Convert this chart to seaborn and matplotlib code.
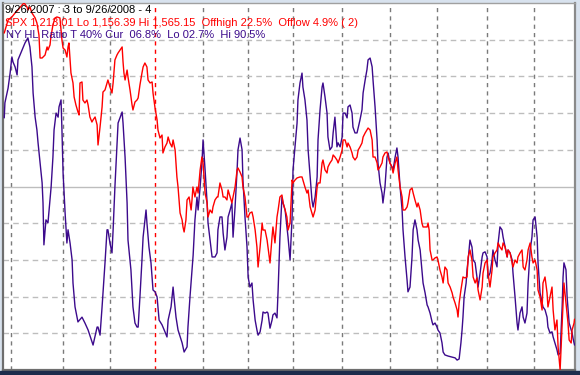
import numpy as np
import pandas as pd
import seaborn as sns
import matplotlib
matplotlib.use("Agg")
import matplotlib.pyplot as plt
from matplotlib.patches import Rectangle

# x = trading day since 9/26/2007 (0 .. 253)
# NY HL ratio, % (left scale, 0..100)
purple_day = [
    0.0, 0.3, 1.7, 2.6, 3.4, 3.9, 4.8, 5.7, 6.1, 7.9,
    9.2, 10.5, 11.4, 12.3, 12.8, 13.7, 14.5, 15.0, 15.9, 16.8,
    17.2, 17.6, 18.5, 19.4, 19.9, 20.8, 21.6, 22.1, 23.0, 23.9,
    24.3, 25.2, 25.6, 26.1, 27.0, 27.8, 28.3, 29.2, 30.1, 30.5,
    31.4, 32.7, 34.5, 35.8, 37.2, 39.4, 41.2, 41.6, 42.5, 43.4,
    44.7, 45.6, 46.0, 46.9, 47.8, 48.3, 49.1, 50.0, 50.5, 52.3,
    52.7, 53.6, 54.5, 54.9, 56.2, 57.1, 58.0, 58.9, 59.4, 60.2,
    61.1, 61.6, 62.9, 63.3, 64.2, 65.1, 66.0, 66.9, 67.8, 68.7,
    70.0, 71.3, 72.2, 72.7, 74.0, 74.9, 75.3, 76.2, 77.1, 78.9,
    79.8, 81.1, 81.5, 82.4, 83.8, 84.6, 85.5, 86.0, 86.9, 87.7,
    88.2, 89.1, 90.0, 90.4, 91.3, 92.2, 93.5, 94.4, 94.8, 95.7,
    96.6, 97.1, 97.9, 98.8, 99.3, 100.2, 101.0, 101.5, 102.4, 103.3,
    103.7, 104.6, 105.5, 105.9, 106.8, 107.7, 108.2, 109.0, 109.9, 110.4,
    111.3, 112.1, 112.6, 113.5, 114.4, 114.8, 115.7, 116.6, 117.0, 117.9,
    118.8, 119.2, 120.1, 121.0, 121.5, 122.3, 123.2, 123.7, 124.6, 125.4,
    125.9, 126.8, 127.7, 128.1, 129.0, 129.9, 130.3, 131.2, 132.1, 132.5,
    133.4, 134.3, 134.8, 135.7, 136.5, 137.0, 137.9, 138.8, 139.2, 140.1,
    141.0, 141.4, 142.3, 143.2, 143.6, 144.5, 145.4, 145.9, 146.7, 147.6,
    148.1, 149.0, 149.9, 150.3, 151.2, 152.1, 152.5, 153.4, 154.3, 154.7,
    155.6, 156.5, 157.0, 157.8, 158.7, 159.2, 160.1, 160.9, 161.4, 162.3,
    163.2, 163.6, 164.5, 165.4, 165.8, 166.7, 167.6, 168.0, 168.9, 169.8,
    170.3, 171.1, 172.0, 172.5, 173.4, 174.2, 174.7, 175.6, 176.5, 176.9,
    177.8, 178.7, 179.1, 180.0, 180.9, 181.4, 182.2, 183.1, 183.6, 184.5,
    185.3, 185.8, 186.7, 187.6, 188.0, 188.9, 189.8, 190.2, 191.1, 192.0,
    192.4, 193.3, 194.2, 194.7, 195.5, 196.9, 198.7, 200.0, 200.9, 201.8,
    202.6, 203.1, 203.5, 204.0, 204.9, 205.3, 205.8, 206.6, 207.5, 208.0,
    208.9, 209.7, 210.2, 211.1, 212.0, 212.4, 213.3, 214.2, 214.6, 215.5,
    216.4, 216.8, 217.7, 218.6, 219.1, 219.9, 220.8, 221.3, 222.2, 223.1,
    223.5, 224.4, 225.3, 225.7, 226.6, 227.5, 227.9, 228.8, 229.7, 230.2,
    231.0, 231.9, 232.4, 233.3, 234.1, 234.6, 235.5, 236.4, 236.8, 237.7,
    238.6, 239.0, 239.9, 240.8, 241.2, 242.1, 243.0, 243.5, 244.3, 245.2,
    245.7, 246.6, 247.5, 247.9, 248.3, 249.2, 249.7, 250.6, 251.9, 252.3,
    253.0,
]
purple_pct = [
    68.7, 72.8, 76.8, 80.9, 85.3, 83.9, 82.6, 80.4, 84.5, 87.2,
    89.1, 90.5, 88.0, 82.6, 75.5, 68.9, 65.4, 61.9, 56.4, 51.0,
    45.5, 34.1, 40.9, 40.1, 43.6, 49.9, 58.0, 65.4, 70.0, 68.9,
    71.7, 73.6, 65.4, 53.7, 42.8, 34.6, 38.2, 34.6, 30.0, 23.7,
    17.2, 13.1, 14.4, 12.8, 10.9, 6.8, 11.7, 11.7, 9.5, 17.2,
    29.2, 38.2, 38.2, 34.6, 31.9, 38.2, 49.9, 60.8, 67.3, 70.3,
    67.3, 58.0, 45.5, 35.4, 27.3, 17.2, 12.8, 11.7, 11.7, 19.9,
    30.0, 36.2, 43.6, 40.1, 33.5, 29.2, 21.8, 21.3, 19.9, 13.6,
    12.3, 10.4, 9.0, 13.6, 17.2, 22.6, 19.9, 14.4, 10.9, 7.4,
    4.9, 6.3, 11.7, 19.9, 31.3, 40.9, 47.1, 43.6, 49.9, 56.4,
    62.7, 54.5, 45.5, 40.1, 35.4, 30.8, 30.8, 31.9, 38.2, 41.7,
    41.7, 37.3, 32.7, 36.2, 41.7, 43.6, 45.5, 36.2, 44.4, 54.5,
    60.0, 63.2, 60.0, 51.8, 41.7, 33.5, 25.3, 22.6, 23.7, 19.1,
    13.6, 10.9, 9.5, 10.4, 13.6, 15.8, 15.5, 15.8, 15.5, 11.4,
    13.6, 15.0, 15.5, 14.2, 21.8, 36.2, 47.1, 45.5, 43.6, 39.0,
    36.2, 30.0, 41.7, 54.5, 60.8, 67.3, 73.6, 78.2, 80.9, 77.1,
    73.6, 68.1, 60.0, 52.6, 46.3, 44.4, 47.1, 52.6, 62.7, 70.9,
    77.1, 78.2, 74.4, 70.0, 63.5, 60.0, 60.8, 64.6, 68.9, 60.8,
    61.9, 60.8, 63.5, 70.0, 70.0, 68.7, 71.7, 72.2, 70.0, 66.2,
    64.6, 64.6, 65.9, 68.1, 70.9, 75.5, 79.0, 81.8, 84.5, 85.0,
    82.6, 79.0, 71.7, 62.7, 56.4, 51.0, 48.2, 45.5, 49.9, 58.0,
    59.1, 56.4, 55.3, 54.5, 58.0, 60.5, 58.0, 49.9, 43.6, 38.2,
    30.8, 24.5, 21.3, 22.6, 30.8, 38.2, 40.9, 38.2, 35.4, 32.7,
    27.3, 23.7, 21.0, 17.7, 17.2, 15.5, 13.1, 12.3, 12.8, 11.7,
    10.9, 10.1, 7.4, 4.9, 4.1, 3.8, 3.5, 3.3, 2.7, 3.0,
    7.4, 10.9, 14.4, 19.9, 23.7, 27.3, 30.0, 35.4, 33.5, 30.0,
    29.2, 25.3, 22.6, 26.4, 30.8, 31.9, 32.2, 30.8, 25.3, 26.4,
    30.0, 32.7, 30.0, 28.1, 34.6, 39.0, 38.2, 36.2, 33.5, 30.8,
    32.7, 31.9, 30.0, 26.4, 19.9, 12.8, 10.9, 15.5, 17.2, 14.4,
    12.8, 15.5, 23.7, 32.7, 36.2, 40.9, 41.7, 36.2, 29.2, 21.0,
    18.3, 17.2, 16.4, 14.4, 11.7, 10.1, 10.4, 9.0, 7.4, 5.5,
    4.1, 4.6, 17.2, 25.3, 29.2, 27.3, 19.9, 12.8, 10.1, 8.7,
    6.8,
]

# SPX close (right scale, Lo 1156.39 .. Hi 1565.15)
spx_day = [
    0.0, 1.7, 3.4, 4.8, 6.1, 7.9, 8.8, 10.1, 10.5, 11.4,
    12.3, 13.7, 14.5, 15.4, 15.9, 16.8, 18.1, 19.0, 19.4, 20.3,
    20.7, 21.6, 22.5, 23.4, 24.7, 25.6, 26.1, 27.0, 27.8, 28.3,
    28.7, 29.2, 29.6, 30.5, 31.0, 31.8, 32.7, 33.2, 33.6, 34.5,
    34.9, 35.8, 36.7, 37.2, 38.0, 38.9, 39.4, 40.3, 41.2, 41.6,
    42.5, 43.4, 43.8, 44.7, 45.6, 46.0, 46.9, 47.8, 48.3, 49.1,
    50.0, 50.5, 51.4, 52.3, 52.7, 53.1, 53.6, 54.5, 54.9, 55.8,
    56.7, 57.1, 58.0, 58.9, 59.4, 60.2, 61.1, 61.6, 62.4, 63.3,
    63.8, 64.7, 65.6, 66.0, 66.9, 67.8, 68.2, 69.1, 70.0, 70.4,
    71.3, 72.2, 72.7, 73.5, 74.4, 74.9, 75.8, 76.2, 76.6, 77.1,
    78.0, 78.9, 79.3, 79.8, 80.6, 81.1, 82.0, 82.9, 83.3, 83.7,
    84.6, 85.5, 86.0, 86.9, 87.7, 88.2, 89.1, 90.0, 90.4, 91.3,
    92.2, 92.6, 93.5, 94.4, 94.8, 95.7, 96.6, 97.1, 97.9, 98.8,
    99.3, 100.2, 101.0, 101.5, 102.4, 103.3, 103.7, 104.6, 105.5, 105.9,
    106.8, 107.7, 108.2, 109.0, 109.9, 110.4, 111.3, 112.1, 112.6, 113.5,
    114.4, 114.8, 115.7, 116.6, 117.0, 117.9, 118.8, 119.2, 120.1, 121.0,
    121.5, 122.3, 123.2, 123.7, 124.6, 125.4, 125.9, 126.8, 127.7, 128.1,
    129.0, 129.9, 131.2, 132.1, 132.5, 133.4, 134.3, 134.8, 135.7, 136.5,
    137.0, 137.9, 138.8, 139.2, 140.1, 141.0, 141.4, 142.3, 143.2, 143.6,
    144.5, 145.4, 145.9, 146.7, 147.6, 148.1, 149.0, 149.9, 150.3, 151.2,
    152.1, 152.5, 153.4, 154.3, 154.7, 155.6, 156.5, 157.0, 157.8, 158.7,
    159.2, 160.1, 160.9, 161.4, 162.3, 163.2, 163.6, 164.5, 165.4, 165.8,
    166.7, 167.6, 168.0, 168.9, 169.8, 170.3, 171.1, 172.0, 172.5, 173.4,
    174.2, 174.7, 175.6, 176.5, 176.9, 177.8, 178.7, 179.1, 180.0, 180.9,
    181.4, 182.2, 183.1, 183.6, 184.5, 185.3, 185.8, 187.6, 188.0, 188.5,
    188.9, 189.8, 190.2, 191.1, 192.0, 192.4, 193.3, 194.2, 194.7, 195.5,
    196.4, 196.9, 197.8, 198.7, 199.1, 200.0, 200.9, 201.3, 201.8, 202.6,
    203.5, 204.4, 205.3, 205.8, 206.6, 207.5, 208.0, 208.9, 209.7, 210.2,
    211.1, 212.0, 212.4, 213.3, 214.2, 214.6, 215.5, 216.4, 216.8, 217.7,
    218.6, 219.1, 219.9, 220.8, 221.3, 222.2, 223.1, 223.5, 224.4, 225.3,
    225.7, 226.6, 227.5, 227.9, 228.8, 229.7, 230.2, 231.0, 231.9, 232.4,
    233.3, 234.1, 234.6, 235.5, 236.4, 236.8, 237.7, 238.6, 239.0, 239.9,
    240.8, 241.2, 242.1, 243.0, 243.5, 244.3, 245.2, 245.7, 246.6, 247.0,
    247.9, 248.3, 249.2, 250.1, 250.6, 251.5, 251.9, 252.8, 253.0,
]
spx_close = [
    1531.7, 1546.2, 1549.6, 1554.0, 1557.4, 1562.9, 1565.2, 1560.7, 1557.4, 1560.7,
    1554.0, 1548.5, 1542.9, 1529.5, 1503.9, 1503.9, 1507.2, 1516.2, 1512.8, 1518.4,
    1527.3, 1540.7, 1548.5, 1549.6, 1548.5, 1524.0, 1515.0, 1512.8, 1505.0, 1516.2,
    1520.6, 1501.7, 1487.2, 1476.1, 1460.5, 1451.6, 1443.8, 1440.4, 1476.1, 1477.2,
    1457.1, 1453.8, 1457.1, 1451.6, 1438.2, 1432.6, 1434.9, 1438.2, 1429.3, 1407.0,
    1427.1, 1449.3, 1466.0, 1468.3, 1476.1, 1479.4, 1471.6, 1464.9, 1476.1, 1501.7,
    1507.2, 1509.5, 1512.8, 1516.2, 1499.5, 1487.2, 1479.4, 1490.5, 1482.7, 1468.3,
    1451.6, 1446.0, 1454.9, 1457.1, 1459.4, 1473.8, 1487.2, 1493.9, 1498.3, 1493.9,
    1479.4, 1476.1, 1477.2, 1464.9, 1448.2, 1434.9, 1423.7, 1414.8, 1418.1, 1398.1,
    1404.8, 1409.2, 1415.9, 1409.2, 1404.8, 1412.6, 1401.4, 1387.0, 1371.4, 1360.2,
    1331.3, 1323.5, 1315.7, 1310.1, 1323.5, 1345.8, 1349.1, 1334.6, 1345.8, 1360.2,
    1349.1, 1360.2, 1353.5, 1379.2, 1393.6, 1387.0, 1353.5, 1342.4, 1326.8, 1334.6,
    1331.3, 1338.0, 1345.8, 1349.1, 1349.1, 1364.7, 1356.9, 1349.1, 1349.1, 1345.8,
    1356.9, 1349.1, 1342.4, 1349.1, 1360.2, 1379.2, 1381.4, 1376.9, 1371.4, 1360.2,
    1349.1, 1326.8, 1326.8, 1331.3, 1332.4, 1326.8, 1312.3, 1293.4, 1271.1, 1293.4,
    1320.1, 1312.3, 1312.3, 1301.2, 1293.4, 1275.6, 1304.5, 1315.7, 1297.9, 1326.8,
    1334.6, 1349.1, 1351.3, 1342.4, 1334.6, 1326.8, 1312.3, 1320.1, 1368.0, 1364.7,
    1368.0, 1370.3, 1371.4, 1371.4, 1368.0, 1360.2, 1353.5, 1356.9, 1338.0, 1331.3,
    1326.8, 1334.6, 1360.2, 1364.7, 1364.7, 1387.0, 1390.3, 1379.2, 1375.8, 1382.5,
    1387.0, 1390.3, 1395.9, 1393.6, 1390.3, 1387.0, 1393.6, 1401.4, 1412.6, 1412.6,
    1404.8, 1409.2, 1404.8, 1398.1, 1393.6, 1390.3, 1393.6, 1401.4, 1404.8, 1409.2,
    1415.9, 1420.4, 1423.7, 1425.9, 1423.7, 1412.6, 1393.6, 1393.6, 1387.0, 1379.2,
    1382.5, 1387.0, 1393.6, 1398.1, 1399.2, 1393.6, 1387.0, 1382.5, 1375.8, 1387.0,
    1393.6, 1379.2, 1360.2, 1349.1, 1334.6, 1334.6, 1338.0, 1342.4, 1356.9, 1359.1,
    1353.5, 1345.8, 1338.0, 1342.4, 1334.6, 1320.1, 1315.7, 1315.7, 1320.1, 1312.3,
    1290.1, 1278.9, 1278.9, 1281.2, 1282.3, 1278.9, 1267.8, 1260.0, 1253.3, 1271.1,
    1267.8, 1253.3, 1248.8, 1242.2, 1237.7, 1231.0, 1223.2, 1215.4, 1231.0, 1245.5,
    1260.0, 1258.9, 1260.0, 1282.3, 1290.1, 1278.9, 1260.0, 1253.3, 1258.9, 1245.5,
    1234.4, 1248.8, 1264.4, 1275.6, 1278.9, 1264.4, 1248.8, 1267.8, 1282.3, 1286.7,
    1290.1, 1297.9, 1293.4, 1290.1, 1297.9, 1293.4, 1282.3, 1290.1, 1286.7, 1275.6,
    1271.1, 1278.9, 1275.6, 1282.3, 1286.7, 1290.1, 1271.1, 1267.8, 1278.9, 1290.1,
    1297.9, 1282.3, 1275.6, 1278.9, 1267.8, 1245.5, 1237.7, 1223.2, 1253.3, 1260.0,
    1242.2, 1226.6, 1237.7, 1248.8, 1223.2, 1201.0, 1212.1, 1182.0, 1156.4, 1178.7,
    1231.0, 1253.3, 1231.0, 1208.8, 1189.8, 1186.5, 1201.0, 1208.8, 1213.0,
]

# first trading day of each month (Oct 07 .. Sep 08); 67 = 1/2/2008
month_starts = [3, 26, 47, 67, 88, 108, 128, 150, 171, 192, 214, 235]
year_start = 67
hgrid = [10, 20, 30, 40, 60, 70, 80, 90]

header = "9/26/2007 : 3 to 9/26/2008 - 4"
spx_label = "SPX 1,213.01 Lo 1,156.39 Hi 1,565.15  Offhigh 22.5%  Offlow 4.9% ( 2)"
hl_label = "NY HL Ratio T 40% Cur  06.8%  Lo 02.7%  Hi 90.5%"

RED = "#ff0000"
PURPLE = "#3c0a8c"

sns.set_style("white")
plt.rcParams["font.family"] = ["Liberation Sans", "DejaVu Sans"]

fig = plt.figure(figsize=(5.8, 3.75), dpi=100, facecolor="#d8e2ee")
fig.patches.append(Rectangle((0, 0), 1, 4 / 375, transform=fig.transFigure,
                             color="#1c2c4c", zorder=0))
ax = fig.add_axes([3 / 580, 5 / 375, 572 / 580, 367 / 375])
ax.set_facecolor("white")

# grid
for d in month_starts:
    if d == year_start:
        ax.axvline(d, color=RED, lw=1.0, ls=(0, (3, 3)), zorder=1)
    else:
        ax.axvline(d, color="#7a7a7a", lw=1.0, ls=(0, (3, 3)), zorder=1)
for g in hgrid:
    ax.axhline(g, color="#bdbdbd", lw=1.0, ls=(0, (4, 3)), zorder=1)
ax.axhline(50, color="#bdbdbd", lw=1.0, zorder=1)

sns.lineplot(x=purple_day, y=purple_pct, ax=ax, color=PURPLE, lw=1.0,
             estimator=None, sort=False, zorder=3)
ax.set_xlim(-0.55, 253.2)
ax.set_ylim(0, 100)

ax2 = ax.twinx()
ax2.set_position(ax.get_position())
sns.lineplot(x=spx_day, y=spx_close, ax=ax2, color=RED, lw=1.0,
             estimator=None, sort=False, zorder=3)
ax2.set_ylim(1156.39, 1565.15)
ax2.set_xlim(-0.55, 253.2)

for a in (ax, ax2):
    a.set_xticks([])
    a.set_yticks([])
    a.set_xlabel("")
    a.set_ylabel("")
for s in ("left", "bottom"):
    ax.spines[s].set_color("#6e6e6e")
    ax.spines[s].set_linewidth(1.6)
ax.spines["right"].set_color("#8a8a8a")
ax.spines["right"].set_linewidth(1.6)
ax.spines["top"].set_color("#a0a0a0")
ax.spines["top"].set_linewidth(1.0)
for s in ax2.spines.values():
    s.set_visible(False)

fig.text(5 / 580, 1 - 10 / 375, header, color="black", fontsize=8, va="center")
fig.text(5 / 580, 1 - 22.5 / 375, spx_label, color=RED, fontsize=8, va="center")
fig.text(6 / 580, 1 - 35 / 375, hl_label, color=PURPLE, fontsize=8, va="center")

fig.savefig("out.png", dpi=100, facecolor=fig.get_facecolor())
